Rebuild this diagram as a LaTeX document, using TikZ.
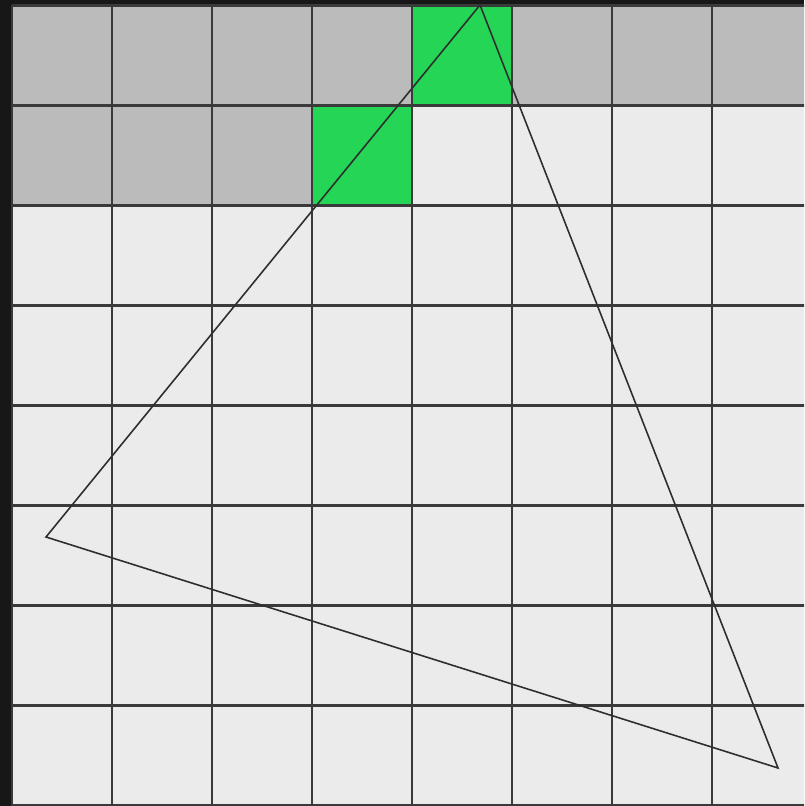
\documentclass[tikz,border=0pt]{standalone}
\usepackage{xcolor}
\usepackage{tikz}
\definecolor{bgdark}   {HTML}{171717}
\definecolor{cellgray} {HTML}{BBBBBB}
\definecolor{celllight}{HTML}{EBEBEB}
\definecolor{cellgreen}{HTML}{24D556}
\definecolor{gridline} {HTML}{3A3A3A}
\definecolor{triline}  {HTML}{2E2E2E}

\begin{document}
\begin{tikzpicture}[
        x=1cm,y=-1cm,
        gridln/.style={gridline,line width=0.75pt},
        tri/.style={triline,line width=0.45pt,line join=miter},
        graycell/.style={fill=cellgray},
        hitcell/.style={fill=cellgreen}]
        \useasboundingbox (0,0) rectangle (8.04,8.06);
        \fill[bgdark] (0,0) rectangle (8.04,8.06);
        \begin{scope}
          \clip (0,0) rectangle (8.04,8.06);
          \begin{scope}[shift={(0.12,0.055)}]
            \fill[celllight] (0,0) rectangle (8,8);
            % covered rows
            \foreach \i in {0,...,7} \fill[graycell] (\i,0) rectangle ++(1,1);
            \foreach \i in {0,1,2} \fill[graycell] (\i,1) rectangle ++(1,1);
            \fill[hitcell] (4,0) rectangle ++(1,1);
            \fill[hitcell] (3,1) rectangle ++(1,1);
            \foreach \k in {0,...,8} {
              \draw[gridln] (\k,0) -- (\k,8);
              \draw[gridln] (0,\k) -- (8,\k);
            }
          \end{scope}
        \end{scope}
        \coordinate (top) at (4.80,0.05);
        \coordinate (left) at (0.46,5.37);
        \coordinate (right) at (7.78,7.68);
        \draw[tri] (top) -- (left) -- (right) -- cycle;
      \end{tikzpicture}
\end{document}
